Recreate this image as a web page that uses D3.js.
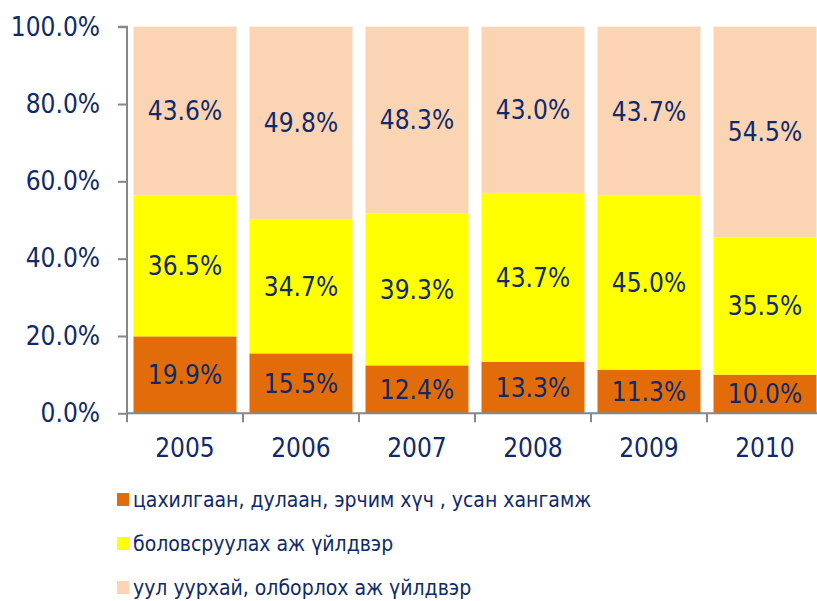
<!DOCTYPE html>
<html>
<head>
<meta charset="utf-8">
<script src="https://cdn.jsdelivr.net/npm/d3@7"></script>
<style>
  html, body { margin: 0; padding: 0; background: #fff; overflow: hidden; }
  svg { display: block; }
  text { font-family: "DejaVu Sans Condensed", "DejaVu Sans", sans-serif; }
</style>
</head>
<body>
<svg id="chart" width="817" height="601"></svg>
<script>
const years = ["2005", "2006", "2007", "2008", "2009", "2010"];
const seriesNames = [
  "цахилгаан, дулаан, эрчим хүч , усан хангамж",
  "боловсруулах аж үйлдвэр",
  "уул уурхай, олборлох аж үйлдвэр"
];
const energyValues = [19.9, 15.5, 12.4, 13.3, 11.3, 10.0];
const manufacturingValues = [36.5, 34.7, 39.3, 43.7, 45.0, 35.5];
const miningValues = [43.6, 49.8, 48.3, 43.0, 43.7, 54.5];
const yTicks = [0, 0.2, 0.4, 0.6, 0.8, 1.0];
const colors = ["#E36C0A", "#FFFF00", "#FBD4B4"];

const svg = d3.select("#chart");
const textColor = "#0F2A6A";
const axisColor = "#878787";
const fontSize = 26;

const x0 = 127, yTop = 26.7, yBottom = 413.3, step = 116;
const pad = 0.112;
const x = d3.scaleBand().domain(years).range([x0, x0 + step * years.length])
  .paddingInner(pad).paddingOuter(pad / 2);
const y = d3.scaleLinear().domain([0, 1]).range([yBottom, yTop]);

const rows = years.map((yr, i) => ({
  year: yr, s0: energyValues[i], s1: manufacturingValues[i], s2: miningValues[i]
}));
const stack = d3.stack().keys(["s0", "s1", "s2"]);
const layers = stack(rows);

const g = svg.append("g");
layers.forEach((layer, li) => {
  const lg = g.append("g");
  lg.selectAll("rect").data(layer).enter().append("rect")
    .attr("x", d => x(d.data.year))
    .attr("width", x.bandwidth())
    .attr("y", d => y(d[1] / 100))
    .attr("height", d => y(d[0] / 100) - y(d[1] / 100))
    .attr("fill", colors[li]);
  lg.selectAll("text").data(layer).enter().append("text")
    .attr("x", d => x(d.data.year) + x.bandwidth() / 2)
    .attr("y", d => (y(d[0] / 100) + y(d[1] / 100)) / 2)
    .attr("dy", "0.36em")
    .attr("text-anchor", "middle")
    .attr("font-size", fontSize)
    .attr("fill", textColor)
    .text(d => (d[1] - d[0]).toFixed(1) + "%");
});

// Y axis
const yAxis = d3.axisLeft(y).tickValues(yTicks).tickFormat(d3.format(".1%"))
  .tickSize(9).tickPadding(18);
const ya = svg.append("g").attr("transform", `translate(${x0},0)`).call(yAxis);
ya.select(".domain").attr("stroke", axisColor).attr("stroke-width", 2)
  .attr("d", `M-9,${yTop}H0V${yBottom}`);
ya.selectAll(".tick line").attr("stroke", axisColor).attr("stroke-width", 2);
ya.selectAll(".tick text").attr("font-size", fontSize).attr("fill", textColor)
  .attr("font-family", null);

// X axis
const xa = svg.append("g");
xa.append("line").attr("x1", x0).attr("x2", x0 + step * years.length)
  .attr("y1", yBottom).attr("y2", yBottom)
  .attr("stroke", axisColor).attr("stroke-width", 2);
const boundaries = years.map(yr => x(yr) - x.step() * pad / 2);
xa.selectAll("line.tk").data(boundaries).enter().append("line")
  .attr("class", "tk")
  .attr("x1", d => d).attr("x2", d => d)
  .attr("y1", yBottom).attr("y2", yBottom + 9)
  .attr("stroke", axisColor).attr("stroke-width", 2);
xa.selectAll("text").data(years).enter().append("text")
  .attr("x", d => x(d) + x.bandwidth() / 2)
  .attr("y", 457)
  .attr("text-anchor", "middle")
  .attr("font-size", fontSize)
  .attr("fill", textColor)
  .text(d => d);

// Legend
const legendY = [499.5, 543.5, 587.5];
const lgd = svg.append("g");
seriesNames.forEach((name, i) => {
  lgd.append("rect").attr("x", 117).attr("y", legendY[i] - 6.5)
    .attr("width", 12).attr("height", 13).attr("fill", colors[i]);
  lgd.append("text").attr("x", 133).attr("y", legendY[i]).attr("dy", "0.36em")
    .attr("font-size", 21).attr("fill", textColor).text(name);
});
</script>
</body>
</html>
